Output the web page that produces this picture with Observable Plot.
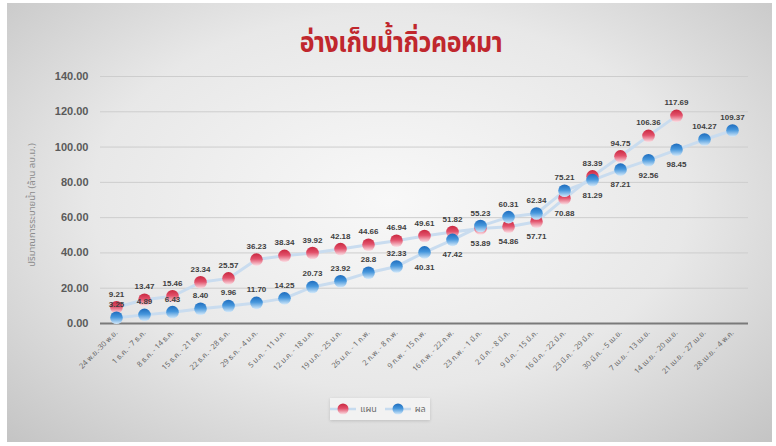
<!DOCTYPE html>
<html>
<head>
<meta charset="utf-8">
<script src="https://cdn.jsdelivr.net/npm/d3@7"></script>
<script src="https://cdn.jsdelivr.net/npm/@observablehq/plot@0.6"></script>
<style>
  html, body { margin: 0; padding: 0; background: #ffffff; }
  body { width: 776px; height: 446px; position: relative; overflow: hidden;
         font-family: "Noto Sans Thai", "Noto Sans", "DejaVu Sans", sans-serif; }
  #bg { position: absolute; left: 7px; top: 3px; width: 765px; height: 439px;
        background: radial-gradient(ellipse at 50% 45%, #f8f8f8 0%, #e8e8e8 55%, #c4c4c4 100%); }
  #title { position: absolute; left: 0; width: 802px; top: 21px; text-align: center;
           font-size: 29px; font-weight: bold; color: #c0272d; letter-spacing: -0.5px;
           transform: scaleX(0.86); transform-origin: 401px 0; }
  #ytitle { position: absolute; left: 32px; top: 205px; transform: translate(-50%, -50%) rotate(-90deg);
            white-space: nowrap; font-size: 9.5px; color: #8c8c8c; }
  #chart { position: absolute; left: 0; top: 60px; }
  #legend { position: absolute; left: 330px; top: 398px; width: 100px; height: 22px;
            background: rgba(245,245,245,0.85); box-shadow: 0 1px 3px rgba(0,0,0,0.15);
            display: flex; align-items: center; justify-content: center; gap: 4px;
            font-size: 9px; color: #6e6e6e; }
  #legend span { margin-right: 4px; }
</style>
</head>
<body>
<svg width="0" height="0" style="position:absolute">
  <defs>
    <linearGradient id="gRed" x1="0" y1="0" x2="0" y2="1">
      <stop offset="0%" stop-color="#c92840"/>
      <stop offset="45%" stop-color="#e2506a"/>
      <stop offset="100%" stop-color="#fbe3e8"/>
    </linearGradient>
    <linearGradient id="gBlue" x1="0" y1="0" x2="0" y2="1">
      <stop offset="0%" stop-color="#1e6cbd"/>
      <stop offset="45%" stop-color="#4596dc"/>
      <stop offset="100%" stop-color="#d6eafa"/>
    </linearGradient>
  </defs>
</svg>
<div id="bg"></div>
<div id="title">อ่างเก็บน้ำกิ่วคอหมา</div>
<div id="ytitle">ปริมาณการระบายน้ำ (ล้าน ลบ.ม.)</div>
<div id="chart"></div>
<div id="legend">
  <svg width="26" height="14"><line x1="0" y1="7" x2="26" y2="7" stroke="#c6dbef" stroke-width="2.5"/><circle cx="13" cy="7" r="5.5" fill="url(#gRed)"/></svg><span>แผน</span>
  <svg width="26" height="14"><line x1="0" y1="7" x2="26" y2="7" stroke="#c6dbef" stroke-width="2.5"/><circle cx="13" cy="7" r="5.5" fill="url(#gBlue)"/></svg><span>ผล</span>
</div>
<script>
const categories = [
  "24 พ.ย.-30 พ.ย.", "1 ธ.ค. - 7 ธ.ค.", "8 ธ.ค. - 14 ธ.ค.", "15 ธ.ค. - 21 ธ.ค.",
  "22 ธ.ค. - 28 ธ.ค.", "29 ธ.ค. - 4 ม.ค.", "5 ม.ค. - 11 ม.ค.", "12 ม.ค. - 18 ม.ค.",
  "19 ม.ค. - 25 ม.ค.", "26 ม.ค. - 1 ก.พ.", "2 ก.พ. - 8 ก.พ.", "9 ก.พ. - 15 ก.พ.",
  "16 ก.พ. - 22 ก.พ.", "23 ก.พ. - 1 มี.ค.", "2 มี.ค. - 8 มี.ค.", "9 มี.ค. - 15 มี.ค.",
  "16 มี.ค. - 22 มี.ค.", "23 มี.ค. - 29 มี.ค.", "30 มี.ค. - 5 เม.ย.", "7 เม.ย. - 13 เม.ย.",
  "14 เม.ย. - 20 เม.ย.", "21 เม.ย. - 27 เม.ย.", "28 เม.ย. - 4 พ.ค."
];
const planValues = [9.21, 13.47, 15.46, 23.34, 25.57, 36.23, 38.34, 39.92, 42.18, 44.66,
  46.94, 49.61, 51.82, 53.89, 54.86, 57.71, 70.88, 83.39, 94.75, 106.36, 117.69, null, null];
const actualValues = [3.25, 4.89, 6.43, 8.40, 9.96, 11.70, 14.25, 20.73, 23.92, 28.8,
  32.33, 40.31, 47.42, 55.23, 60.31, 62.34, 75.21, 81.29, 87.21, 92.56, 98.45, 104.27, 109.37];
const actualLabels = ["3.25", "4.89", "6.43", "8.40", "9.96", "11.70", "14.25", "20.73", "23.92", "28.8",
  "32.33", "40.31", "47.42", "55.23", "60.31", "62.34", "75.21", "81.29", "87.21", "92.56", "98.45", "104.27", "109.37"];
const seriesNames = ["แผน", "ผล"];
const yTicks = [0, 20, 40, 60, 80, 100, 120, 140];

const plan = categories.map((c, i) => ({cat: c, i, value: planValues[i], label: planValues[i] == null ? "" : planValues[i].toFixed(2)}))
  .filter(d => d.value != null);
const actual = categories.map((c, i) => ({cat: c, i, value: actualValues[i], label: actualLabels[i]}));

// label placement rule: label goes below when the point sits under the other series late in the season
const planBelow = d => actualValues[d.i] != null && d.value < actualValues[d.i];
const actualBelow = d => planValues[d.i] != null && d.value < planValues[d.i] && d.i >= 11;

const labelFont = {fontSize: 8, fontWeight: "bold", fill: "#404040", fontFamily: "Liberation Sans, Arial, sans-serif"};

const chart = Plot.plot({
  width: 776,
  height: 340,
  marginTop: 16,
  marginBottom: 77,
  marginLeft: 100,
  marginRight: 28,
  style: {background: "transparent", fontFamily: "Liberation Sans, Arial, sans-serif", overflow: "visible"},
  x: {type: "point", domain: categories, padding: 0.5},
  y: {domain: [0, 140]},
  marks: [
    Plot.gridY(yTicks, {stroke: "#cdcdcd", strokeOpacity: 1, strokeWidth: 1}),
    Plot.ruleY([0], {stroke: "#7a7a7a", strokeWidth: 2}),
    Plot.axisY(yTicks, {tickSize: 0, tickPadding: 12, tickFormat: d => d.toFixed(2),
      fontSize: 11, fontWeight: "bold", fill: "#5a5a5a", label: null}),
    Plot.axisX({tickSize: 0, tickPadding: 8, tickRotate: -45, fontSize: 7.5, fill: "#6a6a6a", label: null,
      fontFamily: "Noto Sans Thai, Noto Sans, DejaVu Sans, sans-serif"}),
    Plot.line(plan, {x: "cat", y: "value", stroke: "#c9dcef", strokeWidth: 3}),
    Plot.line(actual, {x: "cat", y: "value", stroke: "#c9dcef", strokeWidth: 3}),
    Plot.dot(plan, {x: "cat", y: "value", r: 6.3, fill: "url(#gRed)", stroke: "none"}),
    Plot.dot(actual, {x: "cat", y: "value", r: 6.3, fill: "url(#gBlue)", stroke: "none"}),
    Plot.text(plan.filter(d => !planBelow(d)), {x: "cat", y: "value", text: "label", dy: -13, ...labelFont}),
    Plot.text(plan.filter(planBelow), {x: "cat", y: "value", text: "label", dy: 15, ...labelFont}),
    Plot.text(actual.filter(d => !actualBelow(d)), {x: "cat", y: "value", text: "label", dy: -13, ...labelFont}),
    Plot.text(actual.filter(actualBelow), {x: "cat", y: "value", text: "label", dy: 15, ...labelFont})
  ]
});
document.getElementById("chart").appendChild(chart);
</script>
</body>
</html>
